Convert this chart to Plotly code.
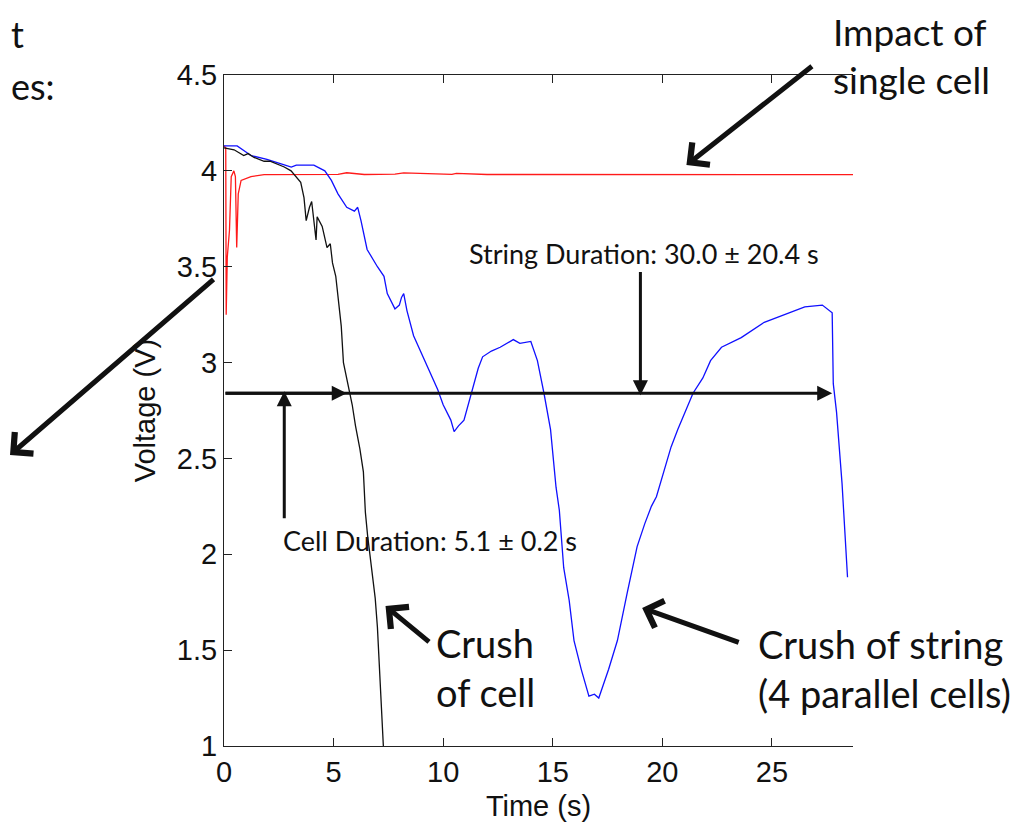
import plotly.graph_objects as go

# ---------------- data ----------------
red_t = [0, 0.08, 0.1, 0.15, 0.25, 0.33, 0.45, 0.52, 0.58, 0.65, 0.78, 1.23, 1.83,
         3.0, 5.2, 5.6, 6.4, 7.8, 8.2, 10.4, 10.6, 12.0, 16.0, 20.0, 24.0, 28.7]
red_v = [4.13, 4.12, 3.25, 3.55, 3.69, 3.97, 4.00, 3.97, 3.60, 3.88, 3.95, 3.97, 3.98,
         3.981, 3.982, 3.990, 3.981, 3.983, 3.989, 3.982, 3.987, 3.981, 3.981, 3.980, 3.981, 3.980]

black_t = [0, 0.46, 0.9, 1.1, 1.37, 1.6, 1.83, 2.1, 2.3, 2.5, 2.75, 3.06, 3.3, 3.5, 3.65, 3.75,
           3.9, 4.0, 4.2, 4.25, 4.48, 4.7, 4.85, 4.95, 5.1, 5.25, 5.35, 5.45, 5.6, 5.75, 5.85,
           6.0, 6.2, 6.36, 6.45, 6.55, 6.68, 6.9, 7.0, 7.05, 7.14, 7.2, 7.28]
black_v = [4.12, 4.11, 4.08, 4.09, 4.07, 4.06, 4.05, 4.05, 4.04, 4.03, 4.02, 4.00, 3.97, 3.94, 3.86, 3.74,
           3.81, 3.84, 3.64, 3.76, 3.71, 3.60, 3.62, 3.52, 3.45, 3.31, 3.19, 3.00, 2.92, 2.84, 2.78,
           2.67, 2.55, 2.43, 2.22, 2.10, 1.97, 1.77, 1.62, 1.50, 1.24, 1.15, 0.98]

blue_t = [0, 0.6, 1.23, 1.96, 2.5, 3.07, 3.3, 4.1, 4.6, 4.9, 5.2, 5.6, 5.95, 6.1, 6.25, 6.53,
          7.0, 7.3, 7.45, 7.8, 8.0, 8.1, 8.2, 8.35, 8.65, 9.0, 9.3, 9.75, 10.0, 10.35,
          10.5, 10.7, 10.95, 11.2, 11.35, 11.6, 11.8, 12.2, 12.6, 13.2, 13.5, 14.0, 14.3,
          14.6, 14.9, 15.15, 15.3, 15.5, 15.75, 15.97, 16.3, 16.65, 16.9, 17.1, 17.55, 17.95,
          18.4, 18.85, 19.2, 19.5, 19.73, 20.05, 20.4, 20.7, 20.95, 21.4, 21.85, 22.2, 22.7,
          23.6, 24.65, 25.75, 26.5, 27.3, 27.75, 27.8, 27.95, 28.2, 28.4, 28.45]
blue_v = [4.13, 4.13, 4.08, 4.06, 4.04, 4.02, 4.03, 4.03, 4.00, 3.95, 3.88, 3.81, 3.79, 3.81, 3.74, 3.59,
          3.50, 3.45, 3.36, 3.28, 3.30, 3.34, 3.36, 3.27, 3.14, 3.05, 2.98, 2.86, 2.78, 2.70,
          2.64, 2.67, 2.70, 2.80, 2.86, 2.97, 3.03, 3.06, 3.08, 3.12, 3.10, 3.11, 3.01,
          2.84, 2.65, 2.35, 2.23, 1.93, 1.76, 1.55, 1.40, 1.26, 1.27, 1.25, 1.40, 1.55,
          1.80, 2.04, 2.16, 2.25, 2.30, 2.42, 2.56, 2.65, 2.72, 2.84, 2.92, 3.01, 3.08,
          3.13, 3.21, 3.26, 3.29, 3.30, 3.26, 2.89, 2.74, 2.37, 1.95, 1.88]

x_ticks = [0, 5, 10, 15, 20, 25]
y_ticks = [1, 1.5, 2, 2.5, 3, 3.5, 4, 4.5]

# durations (arrows)
duration_level = 2.84
cell_end = 5.6
string_end = 27.75

# ---------------- layout helpers ----------------
PAGE_OFF = 8                      # default body margin of the html page
W, H = 1029 - PAGE_OFF, 828 - PAGE_OFF
X0, X1, Y0, Y1 = 224, 853, 75, 746  # plot area in picture pixels
L, T = X0 - PAGE_OFF, Y0 - PAGE_OFF
R, B = W - (X1 - PAGE_OFF), H - (Y1 - PAGE_OFF)
PW, PH = X1 - X0, Y1 - Y0


def pxx(x):
    return (x - X0) / PW


def pxy(y):
    return (Y1 - y) / PH


fig = go.Figure()
fig.add_trace(go.Scatter(x=red_t, y=red_v, mode="lines", line=dict(color="#ff1a1a", width=1.3),
                         showlegend=False))
fig.add_trace(go.Scatter(x=blue_t, y=blue_v, mode="lines", line=dict(color="#1010ff", width=1.3),
                         showlegend=False))
fig.add_trace(go.Scatter(x=black_t, y=black_v, mode="lines", line=dict(color="#111111", width=1.3),
                         showlegend=False))

TXT = dict(family="Lato, Carlito, Calibri, sans-serif", color="#111111")
ann = []


def text(s, x, y, size, xanchor="left"):
    ann.append(dict(text=s, x=pxx(x), y=pxy(y), xref="paper", yref="paper", showarrow=False,
                    xanchor=xanchor, yanchor="middle", align="left",
                    font=dict(size=size, **TXT)))


text("Impact of<br>single cell", 831, 56, 37)
text("Crush<br>of cell", 434, 667, 38)
text("Crush of string<br>(4 parallel cells)", 756, 668, 38)
text("String Duration: 30.0 ± 20.4 s", 467, 253, 27)
text("Cell Duration: 5.1 ± 0.2 s", 281, 540, 27)
text("t", 9, 34, 36)
text("es:", 9, 86, 36)

# thin duration arrows (data coordinates)
thin = dict(showarrow=True, arrowhead=2, arrowsize=1, arrowwidth=3, arrowcolor="#111111", text="",
            xref="x", yref="y", axref="x", ayref="y")
ann.append(dict(x=string_end, y=duration_level, ax=0, ay=duration_level, **thin))
ann.append(dict(x=cell_end, y=duration_level, ax=0, ay=duration_level, **thin))
ann.append(dict(x=2.75, y=duration_level + 0.01, ax=2.75, ay=2.18, **thin))
ann.append(dict(x=19.0, y=duration_level - 0.01, ax=19.0, ay=3.48, **thin))

# thick pointer arrows
thick = dict(showarrow=True, arrowhead=4, arrowsize=1.1, arrowwidth=5, arrowcolor="#111111", text="")
ann.append(dict(x=21.1, y=4.03, xref="x", yref="y", ax=127, ay=-100, **thick))
ann.append(dict(x=7.37, y=1.73, xref="x", yref="y", ax=45, ay=37, **thick))
ann.append(dict(x=19.08, y=1.72, xref="x", yref="y", ax=98, ay=35, **thick))
ann.append(dict(x=pxx(10), y=pxy(455), xref="paper", yref="paper", ax=205, ay=-177, **thick))

AX = dict(family="Liberation Sans, Arial, Helvetica, sans-serif", color="#111111")
fig.update_layout(
    width=W, height=H,
    margin=dict(l=L, r=R, t=T, b=B, pad=0, autoexpand=False),
    paper_bgcolor="white", plot_bgcolor="white",
    annotations=ann,
    xaxis=dict(range=[0, 28.7], tickvals=x_ticks, ticks="inside", ticklen=8, tickwidth=1,
               tickcolor="#222", showline=True, linecolor="#222", linewidth=1, mirror="ticks",
               showgrid=False, zeroline=False, tickfont=dict(size=29, **AX), automargin=False,
               title=dict(text="Time (s)", font=dict(size=29, **AX), standoff=8)),
    yaxis=dict(range=[1, 4.5], tickvals=y_ticks, ticks="inside", ticklen=8, tickwidth=1,
               tickcolor="#222", showline=True, linecolor="#222", linewidth=1, automargin=False,
               showgrid=False, zeroline=False, tickfont=dict(size=29, **AX),
               title=dict(text="Voltage (V)", font=dict(size=29, **AX), standoff=12)),
)

fig.write_html("out.html")
